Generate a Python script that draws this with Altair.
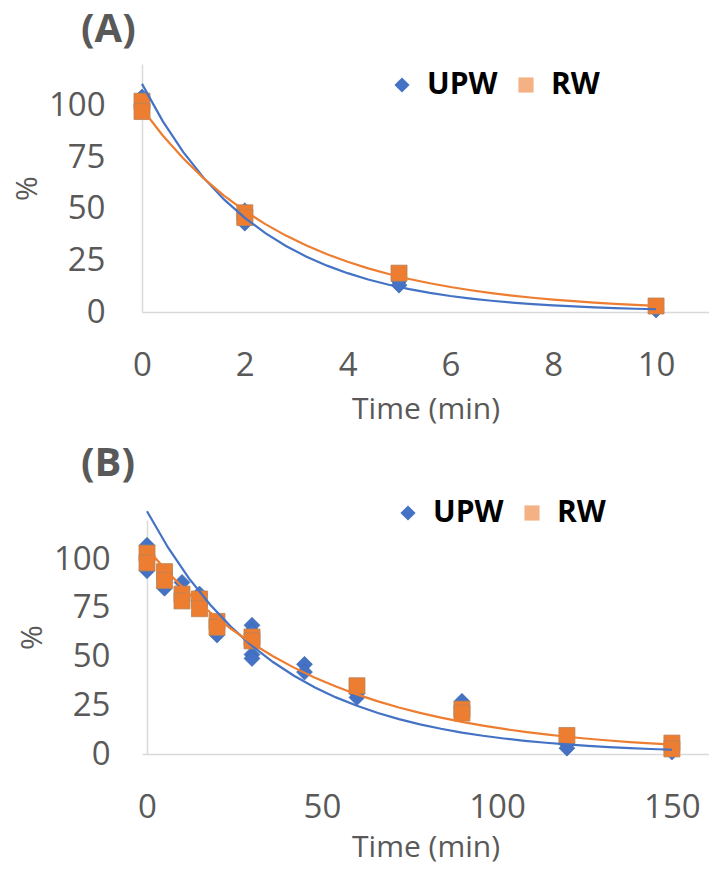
import altair as alt
import pandas as pd

# ---------------- data ----------------
series_names = ["UPW", "RW"]

# Panel A
tA_upw = [0, 0, 2, 2, 5, 5, 10, 10]
vA_upw = [104, 100, 49, 43, 15, 13, 1.5, 1.0]
tA_rw = [0, 0, 2, 2, 5, 10]
vA_rw = [102, 97, 48, 45.7, 18.8, 2.9]

# Panel B
tB_upw = [0, 0, 0, 5, 10, 15, 20, 30, 30, 30, 30, 45, 45, 60, 60, 90, 90, 120, 120, 150, 150]
vB_upw = [107, 100, 94, 85, 88, 82, 61, 66, 63, 51, 49, 46, 42, 31, 29, 27, 24, 5, 3, 2, 1]
tB_rw = [0, 0, 5, 5, 10, 10, 15, 15, 20, 20, 30, 30, 60, 90, 90, 120, 150, 150]
vB_rw = [103, 98, 93.5, 89, 82, 78.5, 79.5, 74.5, 68, 65, 60, 58, 35, 23, 21, 9.5, 5.6, 2.6]

xticksA = [0, 2, 4, 6, 8, 10]
xticksB = [0, 50, 100, 150]
yticks = [0, 25, 50, 75, 100]

BLUE = "#4472C4"
ORANGE = "#ED7D31"
ORANGE_LIGHT = "#F4B183"
GRAY = "#595959"
FONT = "Open Sans"


def make_df(t_upw, v_upw, t_rw, v_rw):
    a = pd.DataFrame({"t": t_upw, "v": v_upw, "series": "UPW"})
    b = pd.DataFrame({"t": t_rw, "v": v_rw, "series": "RW"})
    return pd.concat([a, b], ignore_index=True)


def legend(legend_x, legend_y):
    return alt.Legend(orient="none", legendX=legend_x, legendY=legend_y,
                      direction="horizontal", title=None,
                      labelFont=FONT, labelFontSize=30,
                      labelFontWeight="bold", labelColor="black",
                      symbolSize=230, symbolOpacity=1,
                      symbolStrokeWidth=0, labelOffset=10,
                      columnPadding=13)


def panel(df, title, xdom, xticks, width, height, legend_x, legend_y, yoffset, xtitle_pad):
    x = alt.X("t:Q", scale=alt.Scale(domain=xdom, nice=False, zero=False),
              axis=alt.Axis(values=xticks, title="Time (min)", labelPadding=37,
                            labelFlush=False, titlePadding=xtitle_pad, format="d"))
    y = alt.Y("v:Q", scale=alt.Scale(domain=[0, 120], nice=False),
              axis=alt.Axis(values=yticks, title="%", labelPadding=37,
                            labelFlush=False, titlePadding=6, offset=yoffset))
    base = alt.Chart(df).encode(x=x, y=y)

    legend_layer = base.mark_point(filled=True, opacity=0, size=240).encode(
        color=alt.Color("series:N",
                        scale=alt.Scale(domain=series_names, range=[BLUE, ORANGE_LIGHT]),
                        legend=legend(legend_x, legend_y)),
        shape=alt.Shape("series:N",
                        scale=alt.Scale(domain=series_names, range=["diamond", "square"]),
                        legend=legend(legend_x, legend_y)),
    )

    upw = base.transform_filter(alt.datum.series == "UPW")
    rw = base.transform_filter(alt.datum.series == "RW")

    upw_pts = upw.mark_point(
        shape="diamond", filled=True, size=256, color=BLUE, stroke="#3B63AD",
        strokeWidth=0.6, opacity=1)
    rw_pts = rw.mark_point(
        shape="square", filled=True, size=256, color=ORANGE, stroke="#B8845A",
        strokeWidth=0.8, opacity=1)

    def fit(c, color):
        # exponential trendline: least squares on ln(v), as a spreadsheet does
        return c.transform_calculate(lv="log(datum.v)").transform_regression(
            "t", "lv", method="poly", order=1
        ).transform_calculate(v="exp(datum.lv)").mark_line(color=color, strokeWidth=2.2)

    return alt.layer(legend_layer, upw_pts, rw_pts, fit(upw, BLUE), fit(rw, ORANGE)).properties(
        width=width, height=height,
        title=alt.TitleParams(text=title, anchor="start", frame="group", dx=-61,
                              fontSize=40, font=FONT, fontWeight="bold", color=GRAY,
                              offset=14),
    )


dfA = make_df(tA_upw, vA_upw, tA_rw, vA_rw)
dfB = make_df(tB_upw, vB_upw, tB_rw, vB_rw)

chartA = panel(dfA, "(A)", [0, 11.03], xticksA, 567, 248, 245, 6, 0, 12)
chartB = panel(dfB, "(B)", [-1.43, 160.6], xticksB, 567, 234, 251, -22, -5, 8)

chart = alt.vconcat(chartA, chartB, spacing=20).resolve_scale(
    color="independent", shape="independent", x="independent", y="independent"
).resolve_legend(color="independent", shape="independent").configure_view(
    stroke=None
).configure_axis(
    labelFont=FONT, labelFontSize=33, labelColor=GRAY,
    titleFont=FONT, titleFontSize=30, titleFontWeight="normal", titleColor=GRAY,
    grid=False, ticks=False, tickSize=0, domainColor="#D9D9D9", domainWidth=1.5,
).properties(
    padding={"left": 12, "top": 10, "right": 0, "bottom": 8},
    background="white",
)

chart.save("out.html", embed_options={"renderer": "svg", "actions": False})
